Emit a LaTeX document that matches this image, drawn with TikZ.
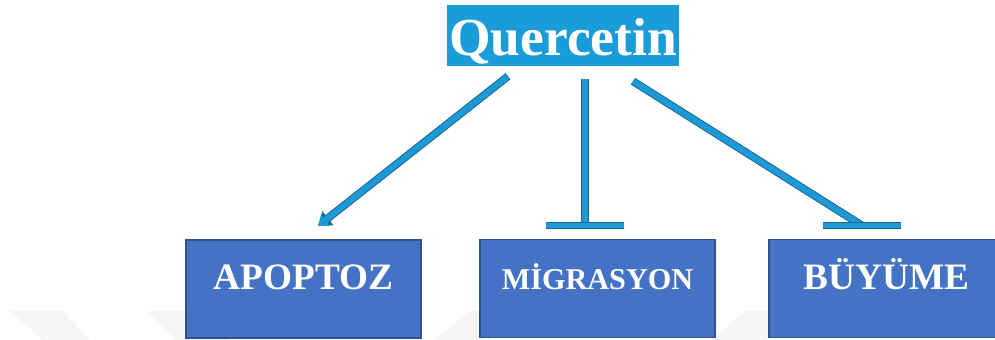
\documentclass[tikz,border=0pt]{standalone}
\usepackage{fontspec}
\setmainfont{Liberation Serif}
\usetikzlibrary{arrows.meta,positioning,calc}
\definecolor{querblue}{HTML}{1A9CD8}
\definecolor{boxblue}{HTML}{4472C4}
\definecolor{boxedge}{HTML}{2F528F}
\definecolor{barblue}{HTML}{1B9AD6}
\definecolor{baredge}{HTML}{1D6594}
\tikzset{
  effect/.style={draw=boxedge,line width=1.4pt,fill=boxblue,text=white,
    minimum width=5.85cm,inner xsep=0pt,inner ysep=0pt,
    text height=1.25cm,text depth=1.2cm},
  bar/.style={draw=barblue,line width=4.2pt,
    preaction={draw=baredge,line width=5.6pt}},
  mark shade/.style={fill=black!4}
}
\begin{document}
\begin{tikzpicture}[x=0.025cm,y=-0.025cm]
  \clip (0,0) rectangle (995,340);
  % faint background marks
  \fill[mark shade] (10,311) -- (62,311) -- (90,340) -- (43,340) -- cycle;
  \fill[mark shade] (147,311) -- (200,311) -- (229,340) -- (176,340) -- cycle;
  \fill[mark shade] (470,311) -- (520,311) -- (490,340) -- (434,340) -- cycle;
  \fill[mark shade] (745,311) -- (795,311) -- (765,340) -- (712,340) -- cycle;

  \node[fill=querblue,text=white,font=\bfseries\fontsize{38}{38}\selectfont,
    inner xsep=1.5pt,inner ysep=0pt,text height=1.25cm,text depth=0.275cm]
    (quer) at (563,35.5) {Quercetin};

  \node[effect,font=\bfseries\fontsize{26.5}{26.5}\selectfont] (apop) at (303.5,289) {APOPTOZ};
  \node[effect,font=\bfseries\fontsize{21.5}{21.5}\selectfont] (migr) at (597.5,288.5) {MİGRASYON};
  \node[effect,font=\bfseries\fontsize{26.5}{26.5}\selectfont] (buyu) at (886.5,288.5) {BÜYÜME};

  \coordinate (mtip) at ($(migr.north)+(-12.5,-13)$);
  \coordinate (btip) at ($(buyu.north)+(-24.5,-13)$);

  % promotes
  \draw[bar,-{Triangle[length=0pt 1.6,width=0pt 2.2]}]
    ($(quer.south)+(-55,10)$) -- ($(apop.north)+(14.5,-13)$);
  % inhibits
  \draw[bar] ($(quer.south)+(22,13)$) -- (mtip);
  \draw[bar] ($(mtip)+(-39,0)$) -- ($(mtip)+(39,0)$);
  \draw[bar] ($(quer.south)+(70,15)$) -- (btip);
  \draw[bar] ($(btip)+(-39,0)$) -- ($(btip)+(39,0)$);
\end{tikzpicture}
\end{document}
